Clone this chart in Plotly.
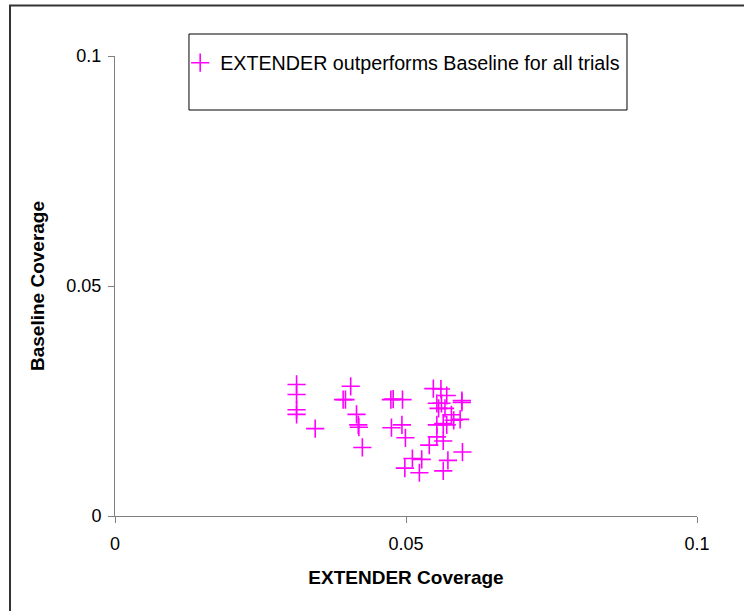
import plotly.graph_objects as go

series_name = "EXTENDER outperforms Baseline for all trials"
x_title = "EXTENDER Coverage"
y_title = "Baseline Coverage"
tick_vals = [0, 0.05, 0.1]
tick_text = ["0", "0.05", "0.1"]

extender_cov = [
    0.0312, 0.0312, 0.0312, 0.0312,
    0.0344, 0.0405, 0.0392, 0.0396, 0.0415, 0.0418, 0.0419, 0.0425,
    0.0474, 0.0478, 0.0494, 0.0475, 0.0493, 0.0499,
    0.0498, 0.0511, 0.0527, 0.0523,
    0.0547, 0.0560, 0.0570, 0.0553, 0.0561, 0.0556, 0.0567,
    0.0596, 0.0596, 0.0578, 0.0553, 0.0564, 0.0570, 0.0582, 0.0593,
    0.0553, 0.0564, 0.0540, 0.0597, 0.0572, 0.0564,
]
baseline_cov = [
    0.0286, 0.0264, 0.0231, 0.0221,
    0.0190, 0.0282, 0.0253, 0.0253, 0.0221, 0.0198, 0.0193, 0.0149,
    0.0253, 0.0254, 0.0253, 0.0192, 0.0198, 0.0170,
    0.0104, 0.0125, 0.0123, 0.0094,
    0.0277, 0.0276, 0.0262, 0.0245, 0.0245, 0.0234, 0.0234,
    0.0251, 0.0247, 0.0220, 0.0198, 0.0201, 0.0198, 0.0208, 0.0210,
    0.0172, 0.0163, 0.0154, 0.0139, 0.0121, 0.0098,
]

FONT = "Liberation Sans, Arial, sans-serif"
AXIS_COLOR = "#7f7f7f"

fig = go.Figure()
fig.add_trace(go.Scatter(
    x=extender_cov, y=baseline_cov, mode="markers", name=series_name,
    marker=dict(symbol="cross-thin", size=13, color="#ff00ff",
                line=dict(color="#ff00ff", width=1.6)),
    showlegend=True,
))

axis_common = dict(
    range=[0, 0.1], tickvals=tick_vals, ticktext=tick_text,
    showline=True, linecolor=AXIS_COLOR, linewidth=1,
    ticks="outside", ticklen=6, tickcolor=AXIS_COLOR, tickwidth=1,
    showgrid=False, zeroline=False,
    tickfont=dict(family=FONT, size=18, color="#000000"),
)

fig.update_layout(
    width=744, height=611,
    margin=dict(l=115, r=47, t=56, b=95),
    paper_bgcolor="white", plot_bgcolor="white",
    font=dict(family=FONT, color="#000000"),
    xaxis=dict(**axis_common, ticklabelstandoff=5,
               title=dict(text=x_title, font=dict(family=FONT, size=19, color="#000000", weight="bold"),
                          standoff=18)),
    yaxis=dict(**axis_common, ticklabelstandoff=3,
               title=dict(text=y_title, font=dict(family=FONT, size=19, color="#000000", weight="bold"),
                          standoff=16)),
    legend=dict(x=0.112, y=0.985, xanchor="left", yanchor="middle",
                bgcolor="rgba(0,0,0,0)", borderwidth=0,
                font=dict(family=FONT, size=19.7, color="#000000")),
    shapes=[
        dict(type="rect", xref="paper", yref="paper",
             x0=0.1271, x1=0.8797, y0=0.8826, y1=1.0478,
             line=dict(color="#000000", width=1), fillcolor="rgba(0,0,0,0)"),
        dict(type="rect", xref="paper", yref="paper",
             x0=-0.1804, x1=1.1, y0=-0.23, y1=1.11,
             line=dict(color="#333333", width=2), fillcolor="rgba(0,0,0,0)"),
    ],
)

fig.write_html(
    "out.html",
    config={"displayModeBar": False},
    post_script="document.body.style.margin='0';document.body.style.overflow='hidden';",
)
